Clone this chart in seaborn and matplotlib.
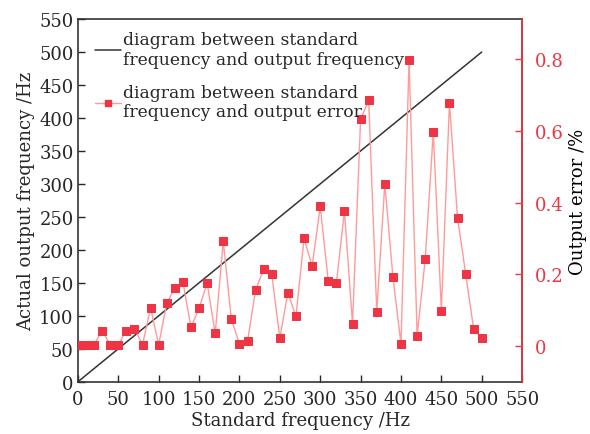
import matplotlib
matplotlib.use("Agg")
import matplotlib.pyplot as plt
import seaborn as sns
import numpy as np
import pandas as pd
from matplotlib.lines import Line2D

standard_freq = [0, 10, 20, 30, 40, 50, 60, 70, 80, 90, 100, 110, 120, 130, 140, 150, 160, 170, 180, 190,
                 200, 210, 220, 230, 240, 250, 260, 270, 280, 290, 300, 310, 320, 330, 340, 350, 360, 370,
                 380, 390, 400, 410, 420, 430, 440, 450, 460, 470, 480, 490, 500]
output_freq = [0, 10, 20, 30, 40, 50, 60, 70, 80, 90, 100, 110, 120, 130, 140, 150, 160, 170, 180, 190,
               200, 210, 220, 230, 240, 250, 260, 270, 280, 290, 300, 310, 320, 330, 340, 350, 360, 370,
               380, 390, 400, 410, 420, 430, 440, 450, 460, 470, 480, 490, 500]
output_error = [0.003, 0.003, 0.003, 0.043, 0.003, 0.003, 0.043, 0.048, 0.003, 0.106, 0.003, 0.119, 0.162,
                0.179, 0.052, 0.105, 0.175, 0.035, 0.292, 0.074, 0.006, 0.013, 0.156, 0.215, 0.201, 0.022,
                0.148, 0.083, 0.300, 0.222, 0.389, 0.181, 0.175, 0.376, 0.062, 0.632, 0.685, 0.096, 0.452,
                0.193, 0.006, 0.797, 0.028, 0.242, 0.597, 0.098, 0.678, 0.358, 0.202, 0.047, 0.022]

x_ticks = [0, 50, 100, 150, 200, 250, 300, 350, 400, 450, 500, 550]
y_ticks = [0, 50, 100, 150, 200, 250, 300, 350, 400, 450, 500, 550]
err_ticks = [0, 0.2, 0.4, 0.6, 0.8]
err_labels = ["0", "0.2", "0.4", "0.6", "0.8"]

label1 = "diagram between standard\nfrequency and output frequency"
label2 = "diagram between standard\nfrequency and output error"

sns.set_style("ticks")
plt.rcParams['font.family'] = ['DejaVu Serif']
plt.rcParams['mathtext.fontset'] = 'dejavuserif'

RED = "#EE3545"
PINK = "#FF9A9A"
DARK = "#333333"

df = pd.DataFrame({"std": standard_freq, "out": output_freq, "err": output_error})

fig = plt.figure(figsize=(5.9, 4.35), dpi=100)
ax = fig.add_axes([0.132, 0.12, 0.753, 0.834])
sns.lineplot(data=df, x="std", y="out", ax=ax, color=DARK, linewidth=1.1)
ax.set_xlim(0, 550)
ax.set_ylim(0, 550)
ax.set_xticks(x_ticks)
ax.set_yticks(y_ticks)
ax.set_xlabel("Standard frequency /Hz", fontsize=13, labelpad=2)
ax.set_ylabel("Actual output frequency /Hz", fontsize=13, labelpad=3)
ax.tick_params(direction="in", labelsize=13, length=5, width=1, pad=3)
ax.tick_params(axis="x", pad=6)
for s in ax.spines.values():
    s.set_linewidth(1.2)
    s.set_color(DARK)

ax2 = ax.twinx()
sns.lineplot(data=df, x="std", y="err", ax=ax2, color=PINK, linewidth=1.0,
             marker="s", markersize=5.8, markerfacecolor=RED, markeredgecolor=RED)
ax2.set_ylim(-0.1, 0.912)
ax2.set_yticks(err_ticks)
ax2.set_yticklabels(err_labels)
ax2.set_ylabel("Output error /%", fontsize=13, labelpad=4)
ax2.tick_params(direction="in", labelsize=13, length=5, width=1, colors=RED, pad=9)
ax2.spines["right"].set_color(RED)
ax2.spines["right"].set_linewidth(1.2)
ax2.yaxis.label.set_color("black")
for side in ["left", "top", "bottom"]:
    ax2.spines[side].set_visible(False)

handles = [Line2D([], [], color=DARK, linewidth=1.1),
           Line2D([], [], color=PINK, linewidth=1.0, marker="s", markersize=4,
                  markerfacecolor=RED, markeredgecolor=RED)]
leg = ax2.legend(handles, [label1, label2], loc="upper left", frameon=False, fontsize=12.3,
                 handlelength=1.5, handletextpad=0.15, labelspacing=0.95,
                 bbox_to_anchor=(0.012, 1.0), borderaxespad=0.3)
for t in leg.get_texts():
    t.set_linespacing(1.2)

fig.savefig("out.png", dpi=100)
